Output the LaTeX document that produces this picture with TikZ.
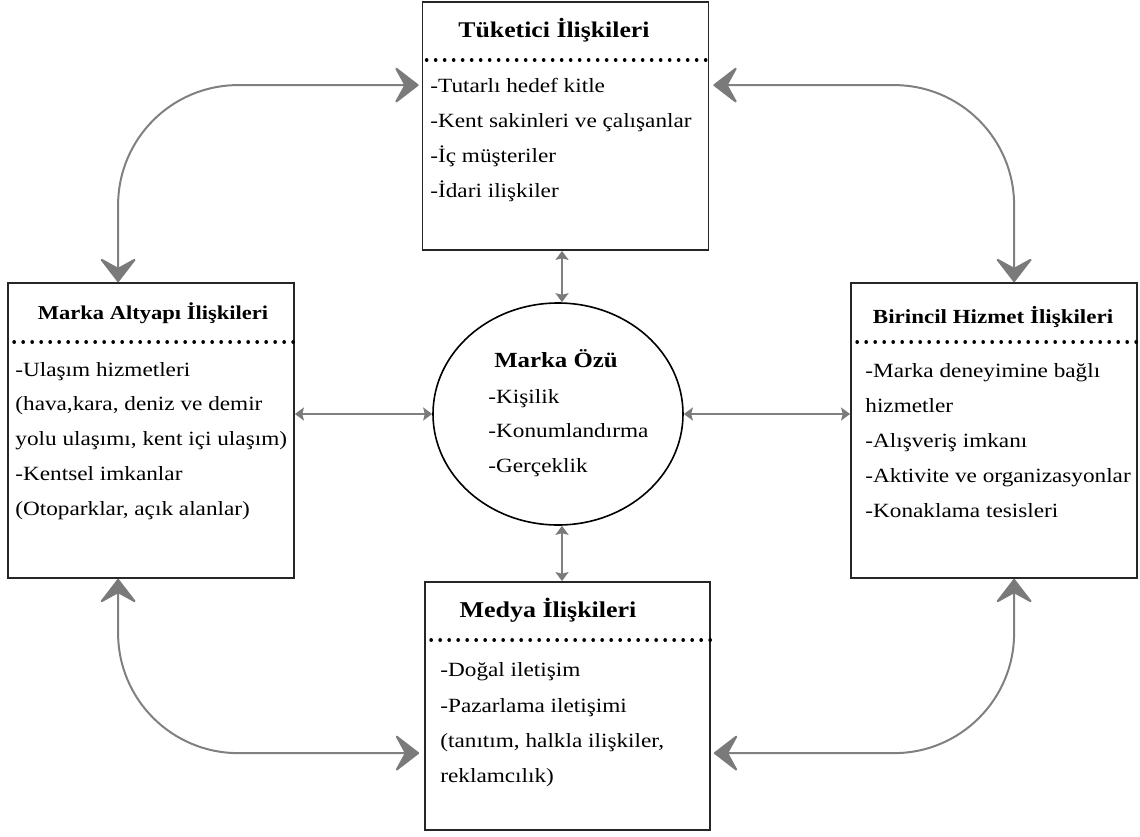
\documentclass[tikz,border=0pt]{standalone}
\usepackage{fontspec}
\setmainfont{Liberation Serif}[FakeStretch=1.15]
\usetikzlibrary{arrows.meta,calc,shapes.geometric}

\colorlet{linkgray}{black!50}
\colorlet{tipgray}{black!52}
\tikzset{
  box/.style={draw=black!85, line width=0.9pt, minimum width=143pt, inner sep=0pt},
  oval/.style={draw=black, line width=0.8pt, ellipse, minimum width=125pt, minimum height=111pt, inner sep=0pt},
  dotline/.style={line width=1.8pt, line cap=round, dash pattern=on 0.05pt off 4.45pt},
  item/.style={anchor=base west, inner sep=0pt, font=\fontsize{10.1}{12}\selectfont},
  head/.style={anchor=base, inner sep=0pt, font=\bfseries\fontsize{#1}{13}\selectfont},
  bigarrow/.style={draw=linkgray, line width=1pt, rounded corners=60pt,
    {Stealth[length=13pt,width=20pt,inset=5.5pt,color=tipgray,fill=tipgray,round]}-{Stealth[length=13pt,width=20pt,inset=5.5pt,color=tipgray,fill=tipgray,round]}},
  smallarrow/.style={draw=linkgray, line width=1pt,
    {Stealth[length=4.5pt,width=6.5pt,inset=0.8pt,color=tipgray,fill=tipgray]}-{Stealth[length=4.5pt,width=6.5pt,inset=0.8pt,color=tipgray,fill=tipgray]}}
}

\begin{document}
\begin{tikzpicture}[x=0.5pt,y=-0.5pt]
\useasboundingbox (0,0) rectangle (1140,836);

% the five blocks
\node[box, minimum height=124pt] (T) at (565.5,126) {};
\node[box, minimum height=147.5pt] (L) at (151,430.5) {};
\node[box, minimum height=147.5pt] (R) at (994,430.5) {};
\node[box, minimum width=142.5pt, minimum height=124pt] (B) at (567.5,706) {};
\node[oval] (E) at (558,414) {};

% dotted separators under the titles
\draw[dotline] ($(T.north west)+(5,59)$) -- ($(T.north east)+(0,59)$);
\draw[dotline] ($(L.north west)+(7,60)$) -- ($(L.north east)+(0,60)$);
\draw[dotline] ($(R.north west)+(7,60)$) -- ($(R.north east)+(0,60)$);
\draw[dotline] ($(B.north west)+(7,59)$) -- ($(B.north east)+(0,59)$);

% consumer relations
\node[head=11.2] (t0) at (554,37) {Tüketici İlişkileri};
\node[item] (t1) at (430,92) {-Tutarlı hedef kitle};
\node[item] (t2) at (430,127) {-Kent sakinleri ve çalışanlar};
\node[item] (t3) at (430,162) {-İç müşteriler};
\node[item] (t4) at (430,197) {-İdari ilişkiler};

% brand infrastructure relations
\node[head=9.8] (l0) at (153,319) {Marka Altyapı İlişkileri};
\node[item] (l1) at (15,376) {-Ulaşım hizmetleri};
\node[item] (l2) at (15,410) {(hava,kara, deniz ve demir};
\node[item] (l3) at (15,445) {yolu ulaşımı, kent içi ulaşım)};
\node[item] (l4) at (15,480) {-Kentsel imkanlar};
\node[item] (l5) at (15,515) {(Otoparklar, açık alanlar)};

% primary service relations
\node[head=10] (r0) at (993,323) {Birincil Hizmet İlişkileri};
\node[item] (r1) at (865,377) {-Marka deneyimine bağlı};
\node[item] (r2) at (865,412) {hizmetler};
\node[item] (r3) at (865,447) {-Alışveriş imkanı};
\node[item] (r4) at (865,482) {-Aktivite ve organizasyonlar};
\node[item] (r5) at (865,517) {-Konaklama tesisleri};

% media relations
\node[head=11.3] (b0) at (548,617) {Medya İlişkileri};
\node[item] (b1) at (440,676) {-Doğal iletişim};
\node[item] (b2) at (440,712) {-Pazarlama iletişimi};
\node[item] (b3) at (440,747) {(tanıtım, halkla ilişkiler,};
\node[item] (b4) at (440,782) {reklamcılık)};

% brand essence
\node[head=10.8] (e0) at (556,367) {Marka Özü};
\node[item] (e1) at (488,403) {-Kişilik};
\node[item] (e2) at (488,437) {-Konumlandırma};
\node[item] (e3) at (488,472) {-Gerçeklik};

% short links to the centre
\coordinate (tu) at ($(T.south)+(-3.5,0)$);
\coordinate (bu) at ($(B.north)+(-5.5,0)$);
\draw[smallarrow] (tu) -- (tu |- E.north);
\draw[smallarrow] (E.south -| bu) -- (bu);
\draw[smallarrow] (L.east |- E.west) -- (E.west);
\draw[smallarrow] (E.east) -- (R.west |- E.east);

% outer curved links
\coordinate (ltop) at ($(L.north west)+(111,0)$);
\coordinate (lbot) at ($(L.south west)+(111,0)$);
\coordinate (rtop) at ($(R.north west)+(164,0)$);
\coordinate (rbot) at ($(R.south west)+(164,0)$);
\coordinate (tl) at ($(T.north west)+(-3,84)$);
\coordinate (tr) at ($(T.north east)+(4,84)$);
\coordinate (bl) at ($(B.north west)+(-5,172)$);
\coordinate (br) at ($(B.north east)+(3,172)$);
\draw[bigarrow] (ltop) |- (tl);
\draw[bigarrow] (rtop) |- (tr);
\draw[bigarrow] (lbot) |- (bl);
\draw[bigarrow] (rbot) |- (br);
\end{tikzpicture}
\end{document}
